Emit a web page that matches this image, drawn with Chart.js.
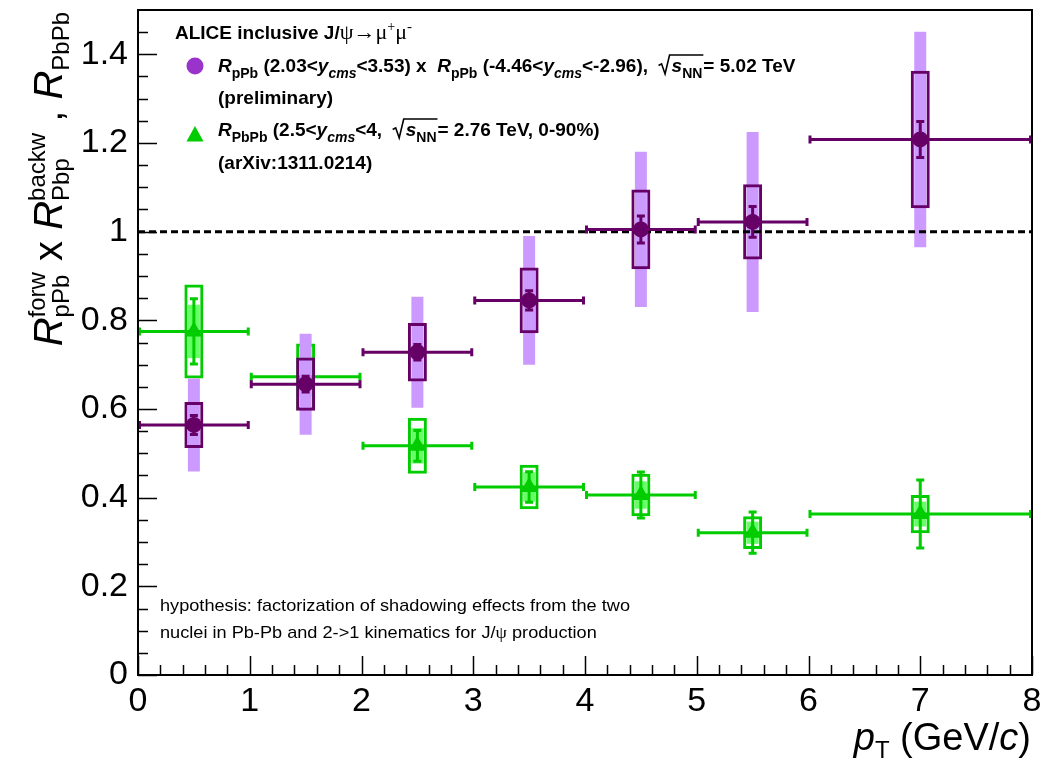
<!DOCTYPE html>
<html><head><meta charset="utf-8">
<script src="https://cdn.jsdelivr.net/npm/chart.js@4.4.1/dist/chart.umd.min.js"></script>
<style>html,body{margin:0;padding:0;background:#fff;}#wrap{width:1060px;height:764px;}</style>
</head><body><div id="wrap"><canvas id="c" width="1060" height="764"></canvas></div>
<script>
// ---------- data ----------
const binCenters = [0.5, 1.5, 2.5, 3.5, 4.5, 5.5, 7];
const binLow     = [0, 1, 2, 3, 4, 5, 6];
const binHigh    = [1, 2, 3, 4, 5, 6, 8];
const xTickValues = [0, 1, 2, 3, 4, 5, 6, 7, 8];
const yTickValues = [0, 0.2, 0.4, 0.6, 0.8, 1, 1.2, 1.4];

// R_pPb(forw) x R_Pbp(backw), 5.02 TeV (preliminary)
const pPbValues      = [0.564, 0.656, 0.728, 0.845, 1.005, 1.022, 1.208];
const pPbStat        = [0.025, 0.021, 0.021, 0.025, 0.034, 0.038, 0.044];
const pPbSystUncorr  = [0.052, 0.060, 0.066, 0.074, 0.090, 0.085, 0.155];
const pPbSystCorr    = [0.105, 0.114, 0.125, 0.145, 0.175, 0.203, 0.243];

// R_PbPb 2.76 TeV 0-90%
const pbValues       = [0.775, 0.673, 0.517, 0.424, 0.406, 0.321, 0.363];
const pbStat         = [0.077, 0.045, 0.038, 0.038, 0.055, 0.050, 0.080];
const pbSystUncorr   = [0.106, 0.075, 0.063, 0.050, 0.048, 0.037, 0.043];
const pbSystCorr     = [0.060, 0.045, 0.040, 0.033, 0.031, 0.025, 0.028];

const unityX = [0, 8];
const unityY = [1, 1];

// ---------- styling ----------
const FONT = '"Liberation Sans", Arial, sans-serif';
const SERIF = '"Liberation Serif", "DejaVu Serif", serif';
const PURPLE = '#660066', PURPLE_LIGHT = '#cc99ff', PURPLE_LEG = '#9933cc';
const GREEN = '#00cc00', GREEN_LIGHT = '#66ff66';

function seg(t, size, o = {}) {
  return { t, f: (o.i ? 'italic ' : '') + (o.b ? 'bold ' : '') + size + 'px ' + (o.serif ? SERIF : FONT), dy: o.dy || 0 };
}
function measureRich(ctx, segs) {
  let w = 0;
  for (const s of segs) {
    if (s.sqrt) { w += 13 + measureRich(ctx, s.sqrt) + 1; continue; }
    if (s.sup) {
      ctx.font = s.sup.f; const a = ctx.measureText(s.sup.t).width;
      ctx.font = s.sub.f; const b = ctx.measureText(s.sub.t).width;
      w += Math.max(a, b); continue;
    }
    ctx.font = s.f; w += ctx.measureText(s.t).width;
  }
  return w;
}
function drawRich(ctx, x, y, segs) {
  let cx = x;
  for (const s of segs) {
    if (s.sqrt) {
      const inner = measureRich(ctx, s.sqrt);
      const h = s.h;
      ctx.save(); ctx.lineWidth = 1.6; ctx.strokeStyle = '#000'; ctx.lineJoin = 'miter';
      ctx.beginPath();
      ctx.moveTo(cx, y - h * 0.38); ctx.lineTo(cx + 3, y - h * 0.48);
      ctx.lineTo(cx + 6.5, y + 2); ctx.lineTo(cx + 11, y - h);
      ctx.lineTo(cx + 13 + inner + 1, y - h);
      ctx.stroke(); ctx.restore();
      cx = drawRich(ctx, cx + 13, y, s.sqrt) + 1;
      continue;
    }
    if (s.sup) {
      ctx.font = s.sup.f; ctx.fillText(s.sup.t, cx, y + s.sup.dy); const a = ctx.measureText(s.sup.t).width;
      ctx.font = s.sub.f; ctx.fillText(s.sub.t, cx, y + s.sub.dy); const b = ctx.measureText(s.sub.t).width;
      cx += Math.max(a, b); continue;
    }
    ctx.font = s.f; ctx.fillText(s.t, cx, y + s.dy); cx += ctx.measureText(s.t).width;
  }
  return cx;
}

// ---------- plugins ----------
const errorBarPlugin = {
  id: 'errorBars',
  beforeDatasetDraw(chart, args) {
    const ds = chart.data.datasets[args.index];
    if (!ds.errInfo) return;
    const e = ds.errInfo, xs = chart.scales.x, ys = chart.scales.y, ctx = chart.ctx;
    ctx.save();
    ctx.strokeStyle = e.color; ctx.lineWidth = 3; ctx.lineCap = 'butt';
    const ca = chart.chartArea;
    ctx.beginPath(); ctx.rect(ca.left, ca.top, ca.right - ca.left, ca.bottom - ca.top); ctx.clip();
    for (let i = 0; i < binCenters.length; i++) {
      const px = xs.getPixelForValue(binCenters[i]);
      const py = ys.getPixelForValue(e.vals[i]);
      const xl = xs.getPixelForValue(binLow[i]), xh = xs.getPixelForValue(binHigh[i]);
      const yt = ys.getPixelForValue(e.vals[i] + e.stat[i]), yb = ys.getPixelForValue(e.vals[i] - e.stat[i]);
      ctx.beginPath();
      ctx.moveTo(xl, py); ctx.lineTo(xh, py);
      ctx.moveTo(xl + 1.5, py - 4); ctx.lineTo(xl + 1.5, py + 4);
      ctx.moveTo(xh - 1.5, py - 4); ctx.lineTo(xh - 1.5, py + 4);
      ctx.moveTo(px, yt); ctx.lineTo(px, yb);
      ctx.moveTo(px - 4, yt + 1.5); ctx.lineTo(px + 4, yt + 1.5);
      ctx.moveTo(px - 4, yb - 1.5); ctx.lineTo(px + 4, yb - 1.5);
      ctx.stroke();
    }
    ctx.restore();
  }
};

const framePlugin = {
  id: 'frame',
  afterDraw(chart) {
    const ctx = chart.ctx, ca = chart.chartArea, xs = chart.scales.x, ys = chart.scales.y;
    ctx.save();
    ctx.strokeStyle = '#000'; ctx.lineWidth = 1.5;
    ctx.beginPath();
    for (let k = 0; k <= 30; k++) {
      const v = k * 0.05; if (v >= 1.499) continue;
      const py = Math.round(ys.getPixelForValue(v)) + 0.5;
      const len = (k % 4 === 0) ? 19 : 10;
      ctx.moveTo(ca.left, py); ctx.lineTo(ca.left + len, py);
    }
    for (let k = 0; k <= 40; k++) {
      const v = k * 0.2;
      const px = Math.round(xs.getPixelForValue(v)) + 0.5;
      const len = (k % 5 === 0) ? 19 : 10;
      ctx.moveTo(px, ca.bottom); ctx.lineTo(px, ca.bottom - len);
    }
    ctx.stroke();
    ctx.lineWidth = 2;
    ctx.strokeRect(ca.left, ca.top, ca.right - ca.left, ca.bottom - ca.top);
    ctx.restore();
  }
};

const textPlugin = {
  id: 'texts',
  afterDraw(chart) {
    const ctx = chart.ctx;
    ctx.save();
    ctx.fillStyle = '#000'; ctx.textBaseline = 'alphabetic'; ctx.textAlign = 'left';
    const B = 19, S = 14, SUB = 6;
    // Legend header
    drawRich(ctx, 175, 39, [
      seg('ALICE inclusive J/', B, { b: 1 }), seg('\u03C8\u2192\u03BC', 22, { serif: 1 }),
      seg('+', 14, { serif: 1, dy: -8 }), seg('\u03BC', 22, { serif: 1 }), seg('-', 15, { serif: 1, dy: -8 })
    ]);
    // markers
    ctx.fillStyle = PURPLE_LEG;
    ctx.beginPath(); ctx.arc(195, 66, 8.5, 0, Math.PI * 2); ctx.fill();
    ctx.fillStyle = GREEN;
    ctx.beginPath(); ctx.moveTo(195, 126); ctx.lineTo(203.5, 141.5); ctx.lineTo(186.5, 141.5); ctx.closePath(); ctx.fill();
    ctx.fillStyle = '#000';
    drawRich(ctx, 218, 72, [
      seg('R', B, { i: 1, b: 1 }), seg('pPb', S, { b: 1, dy: SUB }), seg(' (2.03<', B, { b: 1 }),
      seg('y', B, { i: 1, b: 1 }), seg('cms', S, { i: 1, b: 1, dy: SUB }), seg('<3.53) x  ', B, { b: 1 }),
      seg('R', B, { i: 1, b: 1 }), seg('pPb', S, { b: 1, dy: SUB }), seg(' (-4.46<', B, { b: 1 }),
      seg('y', B, { i: 1, b: 1 }), seg('cms', S, { i: 1, b: 1, dy: SUB }), seg('<-2.96),  ', B, { b: 1 }),
      { sqrt: [seg('s', B, { i: 1, b: 1 }), seg('NN', S, { b: 1, dy: SUB })], h: 17 },
      seg('= 5.02 TeV', B, { b: 1 })
    ]);
    drawRich(ctx, 218, 104, [seg('(preliminary)', B, { b: 1 })]);
    drawRich(ctx, 218, 136, [
      seg('R', B, { i: 1, b: 1 }), seg('PbPb', S, { b: 1, dy: SUB }), seg(' (2.5<', B, { b: 1 }),
      seg('y', B, { i: 1, b: 1 }), seg('cms', S, { i: 1, b: 1, dy: SUB }), seg('<4,  ', B, { b: 1 }),
      { sqrt: [seg('s', B, { i: 1, b: 1 }), seg('NN', S, { b: 1, dy: SUB })], h: 17 },
      seg('= 2.76 TeV, 0-90%)', B, { b: 1 })
    ]);
    drawRich(ctx, 218, 169, [seg('(arXiv:1311.0214)', B, { b: 1 })]);

    // hypothesis note (condensed)
    const note1 = [seg('hypothesis: factorization of shadowing effects from the two', 17)];
    const note2 = [seg('nuclei in Pb-Pb and 2->1 kinematics for J/', 17), seg('\u03C8', 17, { serif: 1 }), seg(' production', 17)];
    const w1 = measureRich(ctx, note1);
    const sx = 470 / w1;
    ctx.save(); ctx.translate(160, 611); ctx.scale(sx, 1); drawRich(ctx, 0, 0, note1); ctx.restore();
    ctx.save(); ctx.translate(160, 638); ctx.scale(sx, 1); drawRich(ctx, 0, 0, note2); ctx.restore();

    // x title
    const xt = [seg('p', 38, { i: 1 }), seg('T', 24, { dy: 8 }), seg(' (GeV/', 38), seg('c', 38, { i: 1 }), seg(')', 38)];
    const wx = measureRich(ctx, xt);
    drawRich(ctx, 1031 - wx, 750, xt);

    // y title (rotated)
    const T = 40, TS = 24;
    const yt = [
      seg('R', T, { i: 1 }), { sup: seg('forw', TS, { dy: -17 }), sub: seg('pPb', TS, { dy: 7 }) },
      seg(' x ', T), seg('R', T, { i: 1 }), { sup: seg('backw', TS, { dy: -17 }), sub: seg('Pbp', TS, { dy: 7 }) },
      seg(' , ', T), seg('R', T, { i: 1 }), seg('PbPb', TS, { dy: 7 })
    ];
    const wy = measureRich(ctx, yt);
    ctx.save(); ctx.translate(62, 12 + wy); ctx.rotate(-Math.PI / 2); drawRich(ctx, 0, 0, yt); ctx.restore();
    ctx.restore();
  }
};

// ---------- chart ----------
const tickFont = { family: FONT, size: 34 };
const pts = (vals) => binCenters.map((x, i) => ({ x, y: vals[i] }));
const band = (vals, err) => binCenters.map((x, i) => ({ x, y: [vals[i] - err[i], vals[i] + err[i]] }));

new Chart(document.getElementById('c'), {
  type: 'scatter',
  data: {
    datasets: [
      { type: 'bar', data: band(pbValues, pbSystCorr), backgroundColor: GREEN_LIGHT, borderWidth: 0, grouped: false, maxBarThickness: 12, order: 10 },
      { type: 'bar', data: band(pbValues, pbSystUncorr), backgroundColor: 'rgba(0,0,0,0)', borderColor: GREEN, borderWidth: 3, borderSkipped: false, grouped: false, maxBarThickness: 19, order: 9 },
      { type: 'scatter', data: pts(pbValues), pointStyle: 'triangle', pointRadius: 10, pointBackgroundColor: GREEN, pointBorderColor: GREEN, pointBorderWidth: 0, order: 8,
        errInfo: { vals: pbValues, stat: pbStat, color: GREEN } },
      { type: 'bar', data: band(pPbValues, pPbSystCorr), backgroundColor: PURPLE_LIGHT, borderWidth: 0, grouped: false, maxBarThickness: 12, order: 7 },
      { type: 'bar', data: band(pPbValues, pPbSystUncorr), backgroundColor: 'rgba(0,0,0,0)', borderColor: PURPLE, borderWidth: 3, borderSkipped: false, grouped: false, maxBarThickness: 19, order: 6 },
      { type: 'line', data: unityX.map((x, i) => ({ x, y: unityY[i] })), borderColor: '#000', borderWidth: 3, borderDash: [7, 4], pointRadius: 0, fill: false, order: 5 },
      { type: 'scatter', data: pts(pPbValues), pointStyle: 'circle', pointRadius: 8, pointBackgroundColor: PURPLE, pointBorderColor: PURPLE, pointBorderWidth: 0, order: 4,
        errInfo: { vals: pPbValues, stat: pPbStat, color: PURPLE } }
    ]
  },
  options: {
    responsive: false, animation: false, devicePixelRatio: 1, events: [],
    layout: { padding: { left: 0, right: 28, top: 8, bottom: 0 } },
    plugins: { legend: { display: false }, tooltip: { enabled: false } },
    scales: {
      x: {
        type: 'linear', min: 0, max: 8, offset: false,
        grid: { display: false, drawTicks: false }, border: { display: false },
        ticks: { font: tickFont, color: '#000', padding: 6, maxRotation: 0, autoSkip: false, callback: v => String(v) },
        afterBuildTicks: s => { s.ticks = xTickValues.map(v => ({ value: v })); },
        afterFit: s => { s.height = 89; s.paddingLeft = 0; s.paddingRight = 0; }
      },
      y: {
        type: 'linear', min: 0, max: 1.5,
        grid: { display: false, drawTicks: false }, border: { display: false },
        ticks: { font: tickFont, color: '#000', padding: 10, autoSkip: false, callback: v => String(+(+v).toFixed(1)) },
        afterBuildTicks: s => { s.ticks = yTickValues.map(v => ({ value: v })); },
        afterFit: s => { s.width = 138; s.paddingTop = 0; s.paddingBottom = 0; }
      }
    }
  },
  plugins: [errorBarPlugin, framePlugin, textPlugin]
});
</script></body></html>
